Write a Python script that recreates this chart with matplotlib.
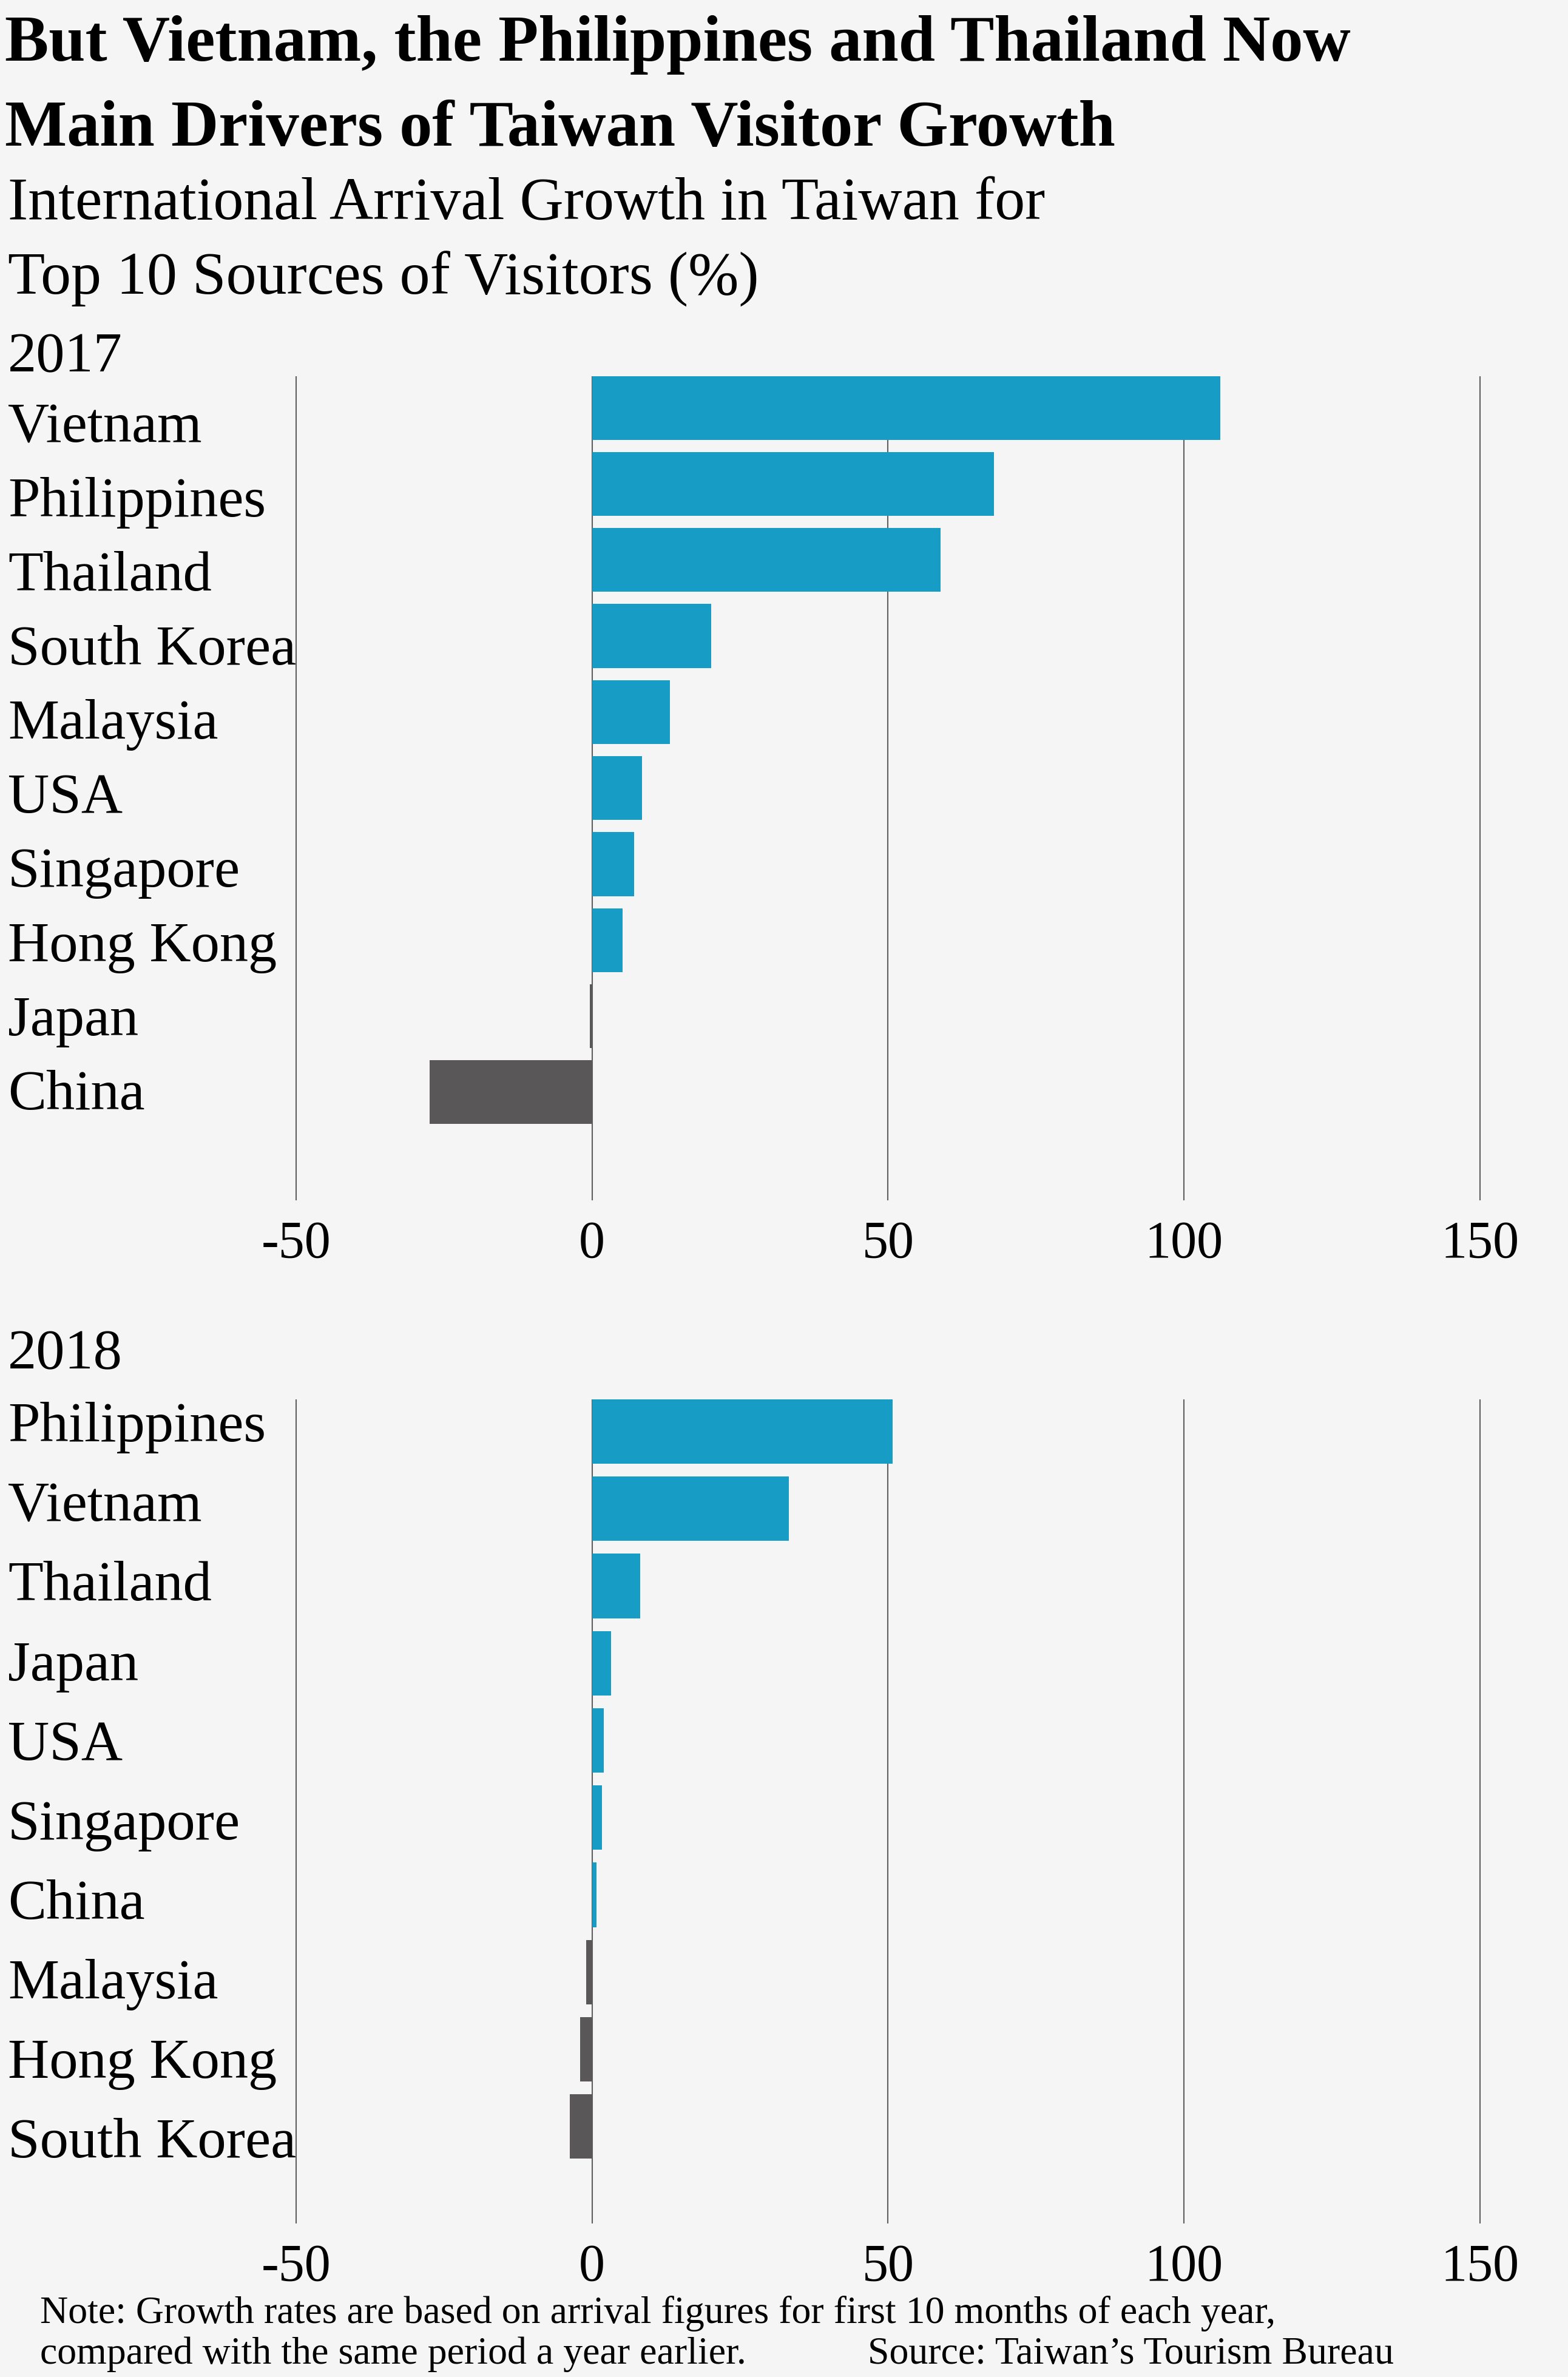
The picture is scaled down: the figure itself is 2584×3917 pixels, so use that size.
import matplotlib
matplotlib.use('Agg')
import matplotlib.pyplot as plt
import matplotlib.transforms as mtransforms
import numpy as np

# values (growth in %)
countries_2017 = ['Vietnam', 'Philippines', 'Thailand', 'South Korea', 'Malaysia',
                  'USA', 'Singapore', 'Hong Kong', 'Japan', 'China']
growth_2017 = [106.1, 67.9, 58.9, 20.1, 13.2, 8.4, 7.1, 5.2, -0.4, -27.4]

countries_2018 = ['Philippines', 'Vietnam', 'Thailand', 'Japan', 'USA',
                  'Singapore', 'China', 'Malaysia', 'Hong Kong', 'South Korea']
growth_2018 = [50.8, 33.3, 8.1, 3.2, 2.0, 1.7, 0.8, -1.0, -2.0, -3.7]

xticks = [-50, 0, 50, 100, 150]

BLUE = '#169cc5'
GREY = '#595757'
BG = '#f5f5f5'

plt.rcParams['font.family'] = ['Liberation Serif', 'DejaVu Serif']

W, H = 2584, 3917
fig = plt.figure(figsize=(W / 100, H / 100), dpi=100, facecolor=BG)


def add_axes_px(top, bottom, left=478.0, right=2448.8):
    return fig.add_axes([left / W, 1 - bottom / H, (right - left) / W, (bottom - top) / H])


def draw_panel(ax, names, vals, ylim, bar_h, lab0, labstep):
    y = np.arange(len(names))
    colors = [BLUE if v > 0 else GREY for v in vals]
    ax.barh(y, vals, height=bar_h, color=colors, zorder=2)
    ax.set_xlim(-51, 151)
    ax.set_ylim(*ylim)
    ax.set_facecolor(BG)
    ax.set_xticks(xticks)
    ax.set_xticklabels([str(t) for t in xticks])
    ax.set_yticks([])
    ax.grid(axis='x', color='#5f5f5f', linewidth=1.5, zorder=0)
    ax.set_axisbelow(True)
    for s in ax.spines.values():
        s.set_visible(False)
    ax.tick_params(axis='x', length=0, pad=24, labelsize=62)
    # country names sit at the left edge of the figure
    trans = mtransforms.blended_transform_factory(fig.transFigure, ax.transData)
    for i, name in enumerate(names):
        ax.text(13 / W, lab0 + labstep * i, name, transform=trans, fontsize=68,
                ha='left', va='baseline')


ax1 = add_axes_px(619.5, 1977.7)
draw_panel(ax1, countries_2017, growth_2017, (10.42, -0.42), 0.84, 0.45, 0.975)
ax2 = add_axes_px(2306, 3664)
draw_panel(ax2, countries_2018, growth_2018, (10.257, -0.4177), 0.835, 0.125, 1.031)

fig.text(13 / W, 1 - 612.8 / H, '2017', fontsize=68, va='baseline')
fig.text(13 / W, 1 - 2255 / H, '2018', fontsize=68, va='baseline')

fig.text(8 / W, 1 - 100 / H, 'But Vietnam, the Philippines and Thailand Now',
         fontsize=78, fontweight='bold', va='baseline')
fig.text(8 / W, 1 - 240 / H, 'Main Drivers of Taiwan Visitor Growth',
         fontsize=78, fontweight='bold', va='baseline')
fig.text(13 / W, 1 - 361 / H, 'International Arrival Growth in Taiwan for',
         fontsize=72, va='baseline')
fig.text(13 / W, 1 - 485 / H, 'Top 10 Sources of Visitors (%)',
         fontsize=72, va='baseline')

fig.text(66 / W, 1 - 3828 / H,
         'Note: Growth rates are based on arrival figures for first 10 months of each year,',
         fontsize=46, va='baseline')
fig.text(66 / W, 1 - 3895 / H, 'compared with the same period a year earlier.',
         fontsize=46, va='baseline')
fig.text(1430 / W, 1 - 3895 / H, 'Source: Taiwan\u2019s Tourism Bureau',
         fontsize=46, va='baseline')

fig.savefig('out.png', dpi=100, facecolor=BG)
